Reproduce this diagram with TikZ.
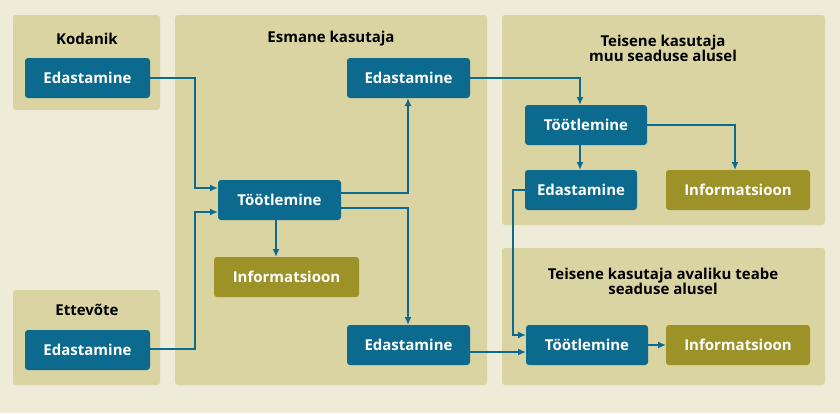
\documentclass[tikz,border=0pt]{standalone}
\usepackage{fontspec}
\setmainfont{Open Sans}
\usetikzlibrary{arrows.meta}
\definecolor{bgcol}{HTML}{EFEBD9}
\definecolor{panelcol}{HTML}{DAD3A2}
\definecolor{bluecol}{HTML}{0B6A8E}
\definecolor{olivecol}{HTML}{9C9228}
\tikzset{
  panel/.style={fill=panelcol, rounded corners=3pt},
  title/.style={font=\bfseries\fontsize{15}{18}\selectfont, align=center},
  bluebox/.style={fill=bluecol, text=white, rounded corners=3pt, font=\bfseries\fontsize{15}{18}\selectfont},
  infobox/.style={fill=olivecol, text=white, rounded corners=3pt, font=\bfseries\fontsize{15}{18}\selectfont},
  flow/.style={draw=bluecol, line width=1.6pt, -{Latex[length=8pt,width=7pt]}}
}
\begin{document}
\begin{tikzpicture}[x=1pt,y=-1pt]
    \fill [bgcol] (0,0) rectangle (840,413);
    \useasboundingbox (0,0) rectangle (840,413);
    % panels
    \fill [panel] (13,15) rectangle (160,110);
    \fill [panel] (13,290) rectangle (160,385);
    \fill [panel] (175,15) rectangle (487,385);
    \fill [panel] (502,15) rectangle (825,225);
    \fill [panel] (502,248) rectangle (825,385);
    \node [title] (tkod) at (87,39) {Kodanik};
    \node [title] (tett) at (87,310) {Ettevõte};
    \node [title] (tesm) at (331,39) {Esmane kasutaja};
    \node [title] (tmuu) at (663,48) {Teisene kasutaja\\[-3pt]muu seaduse alusel};
    \node [title] (tava) at (663,281) {Teisene kasutaja avaliku teabe\\[-3pt]seaduse alusel};
    % boxes
    \path [bluebox] (25,58) rectangle (150,98) node [midway] (ekod) {Edastamine};
    \path [bluebox] (25,330) rectangle (150,370) node [midway] (eett) {Edastamine};
    \path [bluebox] (218,180) rectangle (341,220) node [midway] (tesmb) {Töötlemine};
    \path [infobox] (214,257) rectangle (359,297) node [midway] (iesm) {Informatsioon};
    \path [bluebox] (347,58) rectangle (470,98) node [midway] (eyl) {Edastamine};
    \path [bluebox] (347,325) rectangle (470,365) node [midway] (eal) {Edastamine};
    \path [bluebox] (525,105) rectangle (647,145) node [midway] (tmuub) {Töötlemine};
    \path [bluebox] (525,170) rectangle (637,210) node [midway] (emuu) {Edastamine};
    \path [infobox] (666,170) rectangle (810,210) node [midway] (imuu) {Informatsioon};
    \path [bluebox] (526,325) rectangle (648,365) node [midway] (tavab) {Töötlemine};
    \path [infobox] (666,325) rectangle (810,365) node [midway] (iava) {Informatsioon};
    % connectors
    \draw [flow] (150,78) -| (195,188) -- (218,188);
    \draw [flow] (150,349) -| (195,212) -- (218,212);
    \draw [flow] (341,193) -| (408,98);
    \draw [flow] (341,208) -| (408,325);
    \draw [flow] (276,220) -- (276,257);
    \draw [flow] (470,78) -| (580,105);
    \draw [flow] (647,125) -| (735,170);
    \draw [flow] (580,145) -- (580,170);
    \draw [flow] (525,190) -| (513,335) -- (526,335);
    \draw [flow] (470,352) -- (526,352);
    \draw [flow] (648,345) -- (666,345);
\end{tikzpicture}
\end{document}
